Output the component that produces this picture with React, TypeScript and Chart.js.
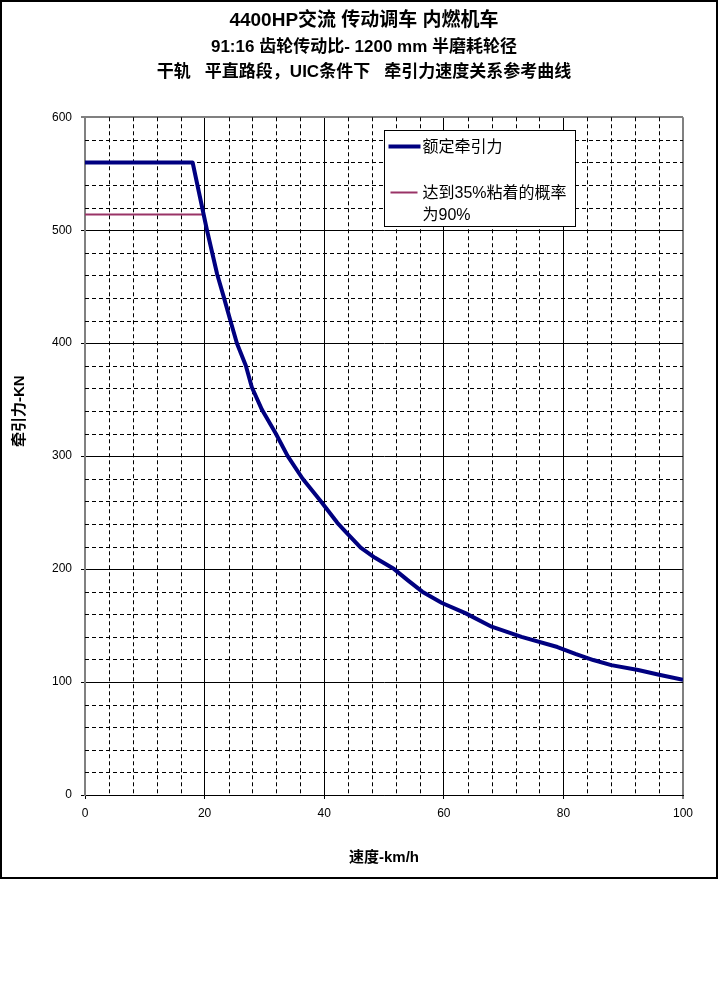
import React, { useEffect, useRef } from "react";
import { Chart, registerables } from "chart.js";

Chart.register(...registerables);

// ---- text ----
const titleLine = "4400HP交流 传动调车 内燃机车";
const subtitleLines = [
  "91:16 齿轮传动比- 1200 mm 半磨耗轮径",
  "干轨   平直路段，UIC条件下   牵引力速度关系参考曲线",
];
const xTitle = "速度-km/h";
const yTitle = "牵引力-KN";
const ratedLabel = "额定牵引力";
const adhesionLabel = "达到35%粘着的概率\n为90%";

// ---- data (speed km/h, tractive effort kN) ----
const ratedSpeed = [
  0, 18, 20.4, 22.1, 23.2, 24.2, 25.4, 26.9, 27.9, 29.6, 31.9, 33.9, 36.4,
  39.3, 42.2, 43.6, 46.1, 48.5, 51.7, 54, 56.4, 59.7, 63.6, 68, 73, 79, 82,
  85, 88, 92.5, 96, 100,
];
const ratedForce = [
  560, 560, 500, 461, 441, 422, 400, 380, 361, 341, 320, 300, 280, 261, 241,
  233, 219, 210, 200, 190, 180, 170, 161, 149, 140, 131, 125, 119.5, 115,
  110.6, 106.5, 102,
];
const adhesionSpeed = [0, 20];
const adhesionForce = [514, 514];

// ---- axes ----
const xMin = 0;
const xMax = 100;
const xMajor = 20;
const xMinor = 4;
const yMin = 0;
const yMax = 600;
const yMajor = 100;
const yMinor = 20;

const FONT = '"Liberation Sans", "Noto Sans CJK SC", sans-serif';

const minorGridPlugin = {
  id: "minorGrid",
  beforeDatasetsDraw(chart: any) {
    const { ctx, chartArea: a, scales } = chart;
    const xs = scales.x;
    const ys = scales.y;
    ctx.save();
    ctx.strokeStyle = "#000";
    ctx.lineWidth = 1;
    ctx.setLineDash([4, 3]);
    ctx.beginPath();
    for (let v = xMin + xMinor; v < xMax - 1e-9; v += xMinor) {
      if (Math.abs(v % xMajor) < 1e-6) continue;
      const px = Math.round(xs.getPixelForValue(v)) + 0.5;
      ctx.moveTo(px, a.top);
      ctx.lineTo(px, a.bottom);
    }
    for (let v = yMin + yMinor; v < yMax - 1e-9; v += yMinor) {
      if (Math.abs(v % yMajor) < 1e-6) continue;
      const py = Math.round(ys.getPixelForValue(v)) + 0.5;
      ctx.moveTo(a.left, py);
      ctx.lineTo(a.right, py);
    }
    ctx.stroke();
    ctx.restore();
  },
};

const boxLegendPlugin = {
  id: "boxLegend",
  afterDatasetsDraw(chart: any) {
    const { ctx, chartArea: a } = chart;
    const ds = chart.data.datasets;
    const bx = Math.round(a.left + 299) + 0.5;
    const by = Math.round(a.top + 13) + 0.5;
    const bw = 191;
    const bh = 96;
    ctx.save();
    ctx.setLineDash([]);
    ctx.fillStyle = "#fff";
    ctx.fillRect(bx, by, bw, bh);
    ctx.strokeStyle = "#000";
    ctx.lineWidth = 1;
    ctx.strokeRect(bx, by, bw, bh);
    ctx.font = "16px " + FONT;
    ctx.fillStyle = "#000";
    ctx.textBaseline = "middle";
    ctx.textAlign = "left";
    const rows = [
      { y: 16, x1: 4, x2: 36 },
      { y: 62, x1: 6, x2: 33 },
    ];
    ds.forEach((d: any, i: number) => {
      const r = rows[i];
      ctx.strokeStyle = d.borderColor;
      ctx.lineWidth = d.borderWidth;
      ctx.lineCap = "butt";
      ctx.beginPath();
      ctx.moveTo(bx + r.x1, by + r.y);
      ctx.lineTo(bx + r.x2, by + r.y);
      ctx.stroke();
      const lines = String(d.label).split("\n");
      lines.forEach((ln: string, k: number) => {
        ctx.fillText(ln, bx + 38, by + r.y + 1 + k * 22);
      });
    });
    ctx.restore();
  },
};

export default function App() {
  const ref = useRef<HTMLCanvasElement | null>(null);

  useEffect(() => {
    if (!ref.current) return;
    const chart = new Chart(ref.current, {
      type: "line",
      data: {
        datasets: [
          {
            label: ratedLabel,
            data: ratedSpeed.map((s, i) => ({ x: s, y: ratedForce[i] })),
            borderColor: "#000080",
            backgroundColor: "#000080",
            borderWidth: 4,
            pointRadius: 0,
            tension: 0,
            borderJoinStyle: "round",
          },
          {
            label: adhesionLabel,
            data: adhesionSpeed.map((s, i) => ({ x: s, y: adhesionForce[i] })),
            borderColor: "#993366",
            backgroundColor: "#993366",
            borderWidth: 2,
            pointRadius: 0,
            tension: 0,
          },
        ],
      },
      options: {
        animation: false,
        responsive: false,
        devicePixelRatio: 1,
        layout: { padding: { left: 10, right: 0, top: 0, bottom: 0 } },
        plugins: {
          legend: { display: false },
          tooltip: { enabled: false },
          title: {
            display: true,
            text: titleLine,
            color: "#000",
            font: { family: FONT, size: 19, weight: "bold", lineHeight: 1.2 },
            padding: { top: 7, bottom: 0 },
          },
          subtitle: {
            display: true,
            text: subtitleLines,
            color: "#000",
            font: { family: FONT, size: 17, weight: "bold", lineHeight: 1.47 },
            padding: { top: 3, bottom: 32.5 },
          },
        },
        scales: {
          x: {
            type: "linear",
            position: "bottom",
            min: xMin,
            max: xMax,
            ticks: {
              stepSize: xMajor,
              color: "#000",
              padding: 7,
              maxRotation: 0,
              font: { family: FONT, size: 12 },
            },
            grid: {
              color: (c: any) => (c.tick && c.tick.value === xMax ? "#808080" : "#000"),
              lineWidth: (c: any) => (c.tick && c.tick.value === xMax ? 2 : 1),
              tickColor: "#000",
              tickLength: 4,
              tickWidth: 1,
            },
            border: { color: "#000", width: 1 },
            title: {
              display: true,
              text: xTitle,
              color: "#000",
              font: { family: FONT, size: 15, weight: "bold", lineHeight: 1.2 },
              padding: { top: 0, bottom: 10 },
            },
            afterFit: (s: any) => {
              s.height = 82;
            },
          },
          y: {
            type: "linear",
            position: "left",
            min: yMin,
            max: yMax,
            ticks: {
              stepSize: yMajor,
              color: "#000",
              padding: 9,
              font: { family: FONT, size: 12 },
            },
            grid: {
              color: (c: any) => (c.tick && c.tick.value === yMax ? "#808080" : "#000"),
              lineWidth: (c: any) => (c.tick && c.tick.value === yMax ? 2 : 1),
              tickColor: "#000",
              tickLength: 4,
              tickWidth: 1,
            },
            border: { color: "#808080", width: 2 },
            title: {
              display: true,
              text: "\u3000\u3000\u3000\u3000\u3000\u3000" + yTitle,
              color: "#000",
              font: { family: FONT, size: 15, weight: "bold", lineHeight: 1 },
              padding: { top: 0, bottom: 0 },
            },
            afterFit: (s: any) => {
              s.width = 73;
            },
          },
          yRight: {
            type: "linear",
            position: "right",
            display: true,
            ticks: { display: false },
            grid: { display: false, drawTicks: false },
            border: { display: false },
            afterFit: (s: any) => {
              s.width = 33;
            },
          },
        },
      } as any,
      plugins: [minorGridPlugin, boxLegendPlugin],
    });
    return () => chart.destroy();
  }, []);

  return (
    <div
      style={{
        position: "absolute",
        left: 0,
        top: 0,
        width: 718,
        height: 879,
        boxSizing: "border-box",
        border: "2px solid #000",
        background: "#fff",
      }}
    >
      <canvas ref={ref} width={714} height={875} style={{ display: "block" }} />
    </div>
  );
}
